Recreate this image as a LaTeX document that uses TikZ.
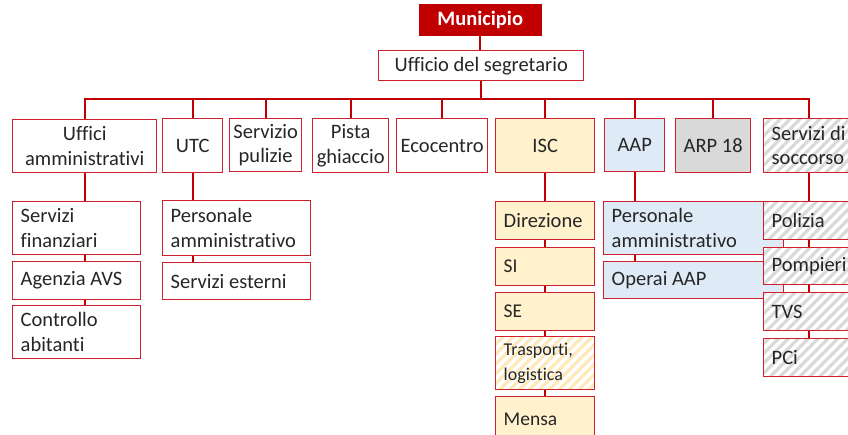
\documentclass[tikz,border=0pt]{standalone}
\usepackage{fontspec}
\setmainfont{Carlito}[Ligatures=NoCommon]
\usetikzlibrary{patterns.meta}
\definecolor{rd}{HTML}{C00000}
\definecolor{bd}{HTML}{D02030}
\definecolor{cream}{HTML}{FFF2CC}
\definecolor{creamstripe}{HTML}{FFE9B8}
\definecolor{lblue}{HTML}{DEEBF7}
\definecolor{lgray}{HTML}{D9D9D9}
\definecolor{txt}{HTML}{262626}
\begin{document}
\begin{tikzpicture}[x=1pt,y=-1pt,
  box/.style={draw=bd, line width=1.4pt, fill=white, inner sep=0pt, anchor=north west,
    font=\fontsize{20.5}{24.5}\selectfont, text=txt, align=flush center},
  kid/.style={box, align=flush left, inner xsep=8pt},
  small/.style={font=\fontsize{19.5}{23.5}\selectfont},
  smaller/.style={font=\fontsize{18}{25}\selectfont},
  top/.style={draw=rd, fill=rd, text=white, inner sep=0pt, anchor=north west,
    font=\fontsize{20.5}{24.5}\selectfont\bfseries},
  iscf/.style={fill=cream},
  aapf/.style={fill=lblue},
  arpf/.style={fill=lgray},
  hatchgray/.style={fill=none, preaction={fill=white},
    preaction={pattern={Lines[angle=45,distance=7pt,line width=3.2pt]}, pattern color=lgray}},
  hatchcream/.style={fill=none, preaction={fill=white},
    preaction={pattern={Lines[angle=45,distance=7pt,line width=3.2pt]}, pattern color=creamstripe}},
  conn/.style={draw=rd, line width=1.6pt}
]
\useasboundingbox (0,0) rectangle (848,434);
\clip (0,0) rectangle (848,434);

% top
\node[top, minimum width=122pt, minimum height=31pt] (mun) at (419,4) {Municipio};
\node[box, minimum width=205pt, minimum height=30pt] (seg) at (378,50) {Ufficio del segretario};

% level 1
\node[box, minimum width=144pt, minimum height=53pt] (ua) at (12,119) {Uffici\\amministrativi};
\node[box, minimum width=60pt, minimum height=54pt] (utc) at (162,118) {UTC};
\node[box, minimum width=72pt, minimum height=53pt] (pul) at (229,118) {Servizio\\pulizie};
\node[box, minimum width=76pt, minimum height=54pt] (pis) at (312,118) {Pista\\ghiaccio};
\node[box, minimum width=91pt, minimum height=54pt] (eco) at (396,118) {Ecocentro};
\node[box, iscf, minimum width=99pt, minimum height=54pt] (isc) at (495,118) {ISC};
\node[box, aapf, minimum width=60pt, minimum height=53pt] (aap) at (604,118) {AAP};
\node[box, arpf, minimum width=75pt, minimum height=54pt] (arp) at (675,118) {ARP 18};
\node[kid, hatchgray, text width=110pt, minimum height=54pt] (soc) at (763,118) {Servizi di\\soccorso};
\coordinate (socj) at ([xshift=46pt]soc.north west);
\coordinate (socb) at ([xshift=46pt]soc.south west);

% Uffici amministrativi children
\node[kid, text width=112pt, minimum height=53pt] (sf) at (12,201) {Servizi\\finanziari};
\node[kid, text width=112pt, minimum height=38pt] (avs) at (12,261) {Agenzia AVS};
\node[kid, text width=112pt, minimum height=53pt] (ca) at (12,305) {Controllo\\abitanti};

% UTC children
\node[kid, text width=132pt, minimum height=55pt] (pa1) at (162,200) {Personale\\amministrativo};
\node[kid, text width=132pt, minimum height=37pt] (se1) at (162,262) {Servizi esterni};

% ISC children
\node[kid, iscf, text width=83pt, minimum height=38pt] (dir) at (495,201) {Direzione};
\node[kid, iscf, small, text width=83pt, minimum height=38pt] (si) at (495,247) {SI};
\node[kid, iscf, small, text width=83pt, minimum height=38pt] (se) at (495,292) {SE};
\node[kid, hatchcream, smaller, text width=83pt, minimum height=53pt] (tra) at (495,336) {Trasporti,\\logistica};
\node[kid, iscf, small, text width=83pt, minimum height=45pt] (men) at (495,396) {Mensa};

% AAP children
\node[kid, aapf, text width=164pt, minimum height=53pt] (pa2) at (603,201) {Personale\\amministrativo};
\node[kid, aapf, text width=164pt, minimum height=37pt] (op) at (603,261) {Operai AAP};

% Soccorso children
\node[kid, hatchgray, text width=100pt, minimum height=38pt] (pol) at (763,201) {Polizia};
\node[kid, hatchgray, text width=100pt, minimum height=37pt] (pom) at (763,247) {Pompieri};
\node[kid, hatchgray, text width=100pt, minimum height=38pt] (tvs) at (763,292) {TVS};
\node[kid, hatchgray, text width=100pt, minimum height=38pt] (pci) at (763,338) {PCi};

% connectors
\draw[conn] (mun.south) -- (mun.south |- seg.north);
\coordinate (bus) at (0,99);
\foreach \n in {ua,utc,pul,pis,eco,isc,aap,arp}
  \draw[conn] (seg.south) -- (seg.south |- bus) -| (\n.north);
\draw[conn] (seg.south) -- (seg.south |- bus) -| (socj);

\draw[conn] (ua.south) -- (ua.south |- sf.north);
\draw[conn] (sf.south -| ua.south) -- (avs.north -| ua.south);
\draw[conn] (avs.south -| ua.south) -- (ca.north -| ua.south);

\draw[conn] (utc.south) -- (utc.south |- pa1.north);
\draw[conn] (pa1.south -| utc.south) -- (se1.north -| utc.south);

\draw[conn] (isc.south) -- (isc.south |- dir.north);
\draw[conn] (dir.south -| isc.south) -- (si.north -| isc.south);
\draw[conn] (si.south -| isc.south) -- (se.north -| isc.south);
\draw[conn] (se.south -| isc.south) -- (tra.north -| isc.south);
\draw[conn] (tra.south -| isc.south) -- (men.north -| isc.south);

\draw[conn] (aap.south) -- (aap.south |- pa2.north);
\draw[conn] (pa2.south -| aap.south) -- (op.north -| aap.south);

\draw[conn] (socb) -- (socb |- pol.north);
\draw[conn] (pol.south -| socb) -- (pom.north -| socb);
\draw[conn] (pom.south -| socb) -- (tvs.north -| socb);
\draw[conn] (tvs.south -| socb) -- (pci.north -| socb);
\end{tikzpicture}
\end{document}
